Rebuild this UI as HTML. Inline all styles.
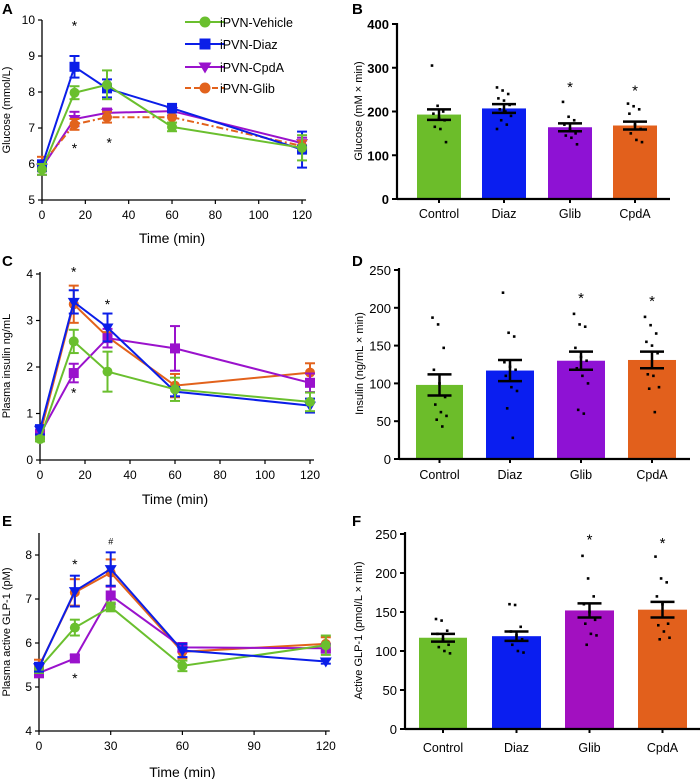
<!DOCTYPE html>
<html><head><meta charset="utf-8"><style>
html,body{margin:0;padding:0;background:#fff;}
svg{display:block;font-family:"Liberation Sans",Arial,sans-serif;}
</style></head><body>
<svg id="s" width="700" height="779" viewBox="0 0 700 779" xmlns="http://www.w3.org/2000/svg"></svg>
<script>
const S=document.getElementById('s');let h='';
const G='#6abf2e',B='#0b1ee8',P='#9a12cc',O='#e2621c';
function t(x,y,s,o){o=o||{};h+=`<text x="${x}" y="${y}" font-size="${o.fs||11}" text-anchor="${o.a||'middle'}" ${o.b?'font-weight="bold"':''} ${o.r?`transform="rotate(-90 ${x} ${y})"`:''} fill="#000">${s}</text>`;}
function L(x1,y1,x2,y2,c,w,d){h+=`<line x1="${x1}" y1="${y1}" x2="${x2}" y2="${y2}" stroke="${c||'#000'}" stroke-width="${w||1.5}" ${d?`stroke-dasharray="${d}"`:''}/>`;}
function mk(x,y,sh,c,r){r=r||5;
 if(sh=='c')h+=`<circle cx="${x}" cy="${y}" r="${r}" fill="${c}"/>`;
 else if(sh=='s')h+=`<rect x="${x-r}" y="${y-r}" width="${2*r}" height="${2*r}" fill="${c}"/>`;
 else if(sh=='d')h+=`<polygon points="${x-r-1},${y-r+1} ${x+r+1},${y-r+1} ${x},${y+r+1}" fill="${c}"/>`;}
function line(p,c){ // p: {ox,xs,y0,v0,ys,ymin,ymax,xt,yt,xlabY,tlY,ylab,ylabX,axTop}
}
function linePanel(P_){const {ox,xs,yv,xt,yt,axTop,axBot,ylab,ylabX,tlY,titleY,series,stars,ytick}=P_;
 L(ox,axTop,ox,axBot,'#000',1.3);L(ox,axBot,ox+xs*120+4,axBot,'#000',1.3);
 yt.forEach(v=>{L(ox-4,yv(v),ox,yv(v),'#000',1.2);t(ox-7,yv(v)+4,v,{a:'end',fs:12});});
 xt.forEach(v=>{L(ox+xs*v,axBot,ox+xs*v,axBot+4,'#000',1.2);t(ox+xs*v,tlY,v,{fs:12});});
 t((ox+ox+xs*120)/2,titleY,'Time (min)',{fs:14});
 t(ylabX,(axTop+axBot)/2,ylab,{r:1,fs:11});
 const T=[0,15,30,60,120];
 series.forEach(s=>{let pts=T.map((tt,i)=>[ox+xs*tt,yv(s.v[i])]);
  h+=`<polyline points="${pts.map(p=>p.join(',')).join(' ')}" fill="none" stroke="${s.c}" stroke-width="2" ${s.d?`stroke-dasharray="${s.d}"`:''}/>`;
  pts.forEach((p,i)=>{const e=(s.e[i]||0.15);const a=yv(s.v[i]+e),b=yv(s.v[i]-e);L(p[0],a,p[0],b,s.c,2);L(p[0]-5,a,p[0]+5,a,s.c,2);L(p[0]-5,b,p[0]+5,b,s.c,2);mk(p[0],p[1],s.m,s.c,5);});});
 stars.forEach(s=>t(ox+xs*s[0],yv(s[1])+5,s[2]||'*',{fs:s[2]?9:14}));
}
// Panel A
{const yv=v=>200-(v-5)*36;
linePanel({ox:42,xs:2.167,yv,xt:[0,20,40,60,80,100,120],yt:[5,6,7,8,9,10],axTop:20,axBot:200,ylab:'Glucose (mmol/L)',ylabX:10,tlY:219,titleY:243,
series:[
{c:P,m:'d',v:[5.9,7.25,7.42,7.47,6.58],e:[0.2,0.2,0.12,0.12,0.15]},
{c:O,m:'c',d:'7,3,2,3',v:[6.0,7.1,7.3,7.3,6.5],e:[0.2,0.15,0.15,0.15,0.15]},
{c:B,m:'s',v:[5.95,8.7,8.1,7.55,6.4],e:[0.15,0.3,0.25,0.12,0.5]},
{c:G,m:'c',v:[5.85,7.98,8.2,7.03,6.45],e:[0.15,0.18,0.4,0.12,0.35]}],
stars:[[15,9.85],[15,6.45],[31,6.6]]});
// legend
[[G,'c','iPVN-Vehicle',22],[B,'s','iPVN-Diaz',44],[P,'d','iPVN-CpdA',67],[O,'c','iPVN-Glib',88]].forEach((r,i)=>{
 L(185,r[3],225,r[3],r[0],2,i==3?'6,3':null);mk(205,r[3],r[1],r[0],5.5);t(220,r[3]+5,r[2],{a:'start',fs:12.5});});
}
// Panel C
{const yv=v=>460-v*46.5;
linePanel({ox:40,xs:2.25,yv,xt:[0,20,40,60,80,100,120],yt:[0,1,2,3,4],axTop:272,axBot:460,ylab:'Plasma insulin ng/mL',ylabX:10,tlY:479,titleY:504,
series:[
{c:O,m:'c',v:[0.55,3.35,2.65,1.6,1.88],e:[0.1,0.4,0.1,0.25,0.2]},
{c:P,m:'s',v:[0.55,1.87,2.62,2.4,1.66],e:[0.1,0.2,0.2,0.48,0.2]},
{c:B,m:'d',v:[0.65,3.4,2.85,1.47,1.17],e:[0.1,0.25,0.3,0.1,0.15]},
{c:G,m:'c',v:[0.45,2.55,1.9,1.52,1.25],e:[0.05,0.25,0.43,0.25,0.2]}],
stars:[[15,4.05],[15,1.45],[30,3.35]]});}
// Panel E
{const yv=v=>731-(v-4)*44;
linePanel({ox:39,xs:2.39,yv,xt:[0,30,60,90,120],yt:[4,5,6,7,8],axTop:533,axBot:731,ylab:'Plasma active GLP-1 (pM)',ylabX:10,tlY:750,titleY:777,
series:[
{c:O,m:'c',v:[5.47,7.15,7.6,5.8,5.98],e:[0.15,0.3,0.3,0.15,0.15]},
{c:P,m:'s',v:[5.32,5.65,7.08,5.9,5.88],e:[0.1,0.08,0.2,0.1,0.1]},
{c:G,m:'c',v:[5.42,6.35,6.82,5.48,5.95],e:[0.1,0.18,0.1,0.12,0.22]},
{c:B,m:'d',v:[5.45,7.18,7.68,5.83,5.58],e:[0.1,0.35,0.38,0.15,0.05]}],
stars:[[15,7.8],[15,5.2],[30,8.35,'#']]});}
// bar panels
function bars(o){const {ox,xe,y0,sc,top,yt,bars,lY,ylab,ylabX,ymaxV}=o;
 const yv=v=>y0-v*sc;
 bars.forEach((b,i)=>{h+=`<rect x="${b.x}" y="${yv(b.v)}" width="${b.w}" height="${y0-yv(b.v)}" fill="${b.c}"/>`;});
 bars.forEach((b,i)=>{const cx=b.x+b.w/2;
  b.pts.forEach((p,j)=>{const dx=((j*37)%11-5)*1.4;h+=`<rect x="${cx+dx-1.3}" y="${yv(p)-1.3}" width="2.6" height="2.6" fill="#000"/>`;});
  const a=yv(b.v+b.e),c=yv(b.v-b.e);L(cx,a,cx,c,'#000',2.5);L(cx-12,a,cx+12,a,'#000',2.5);L(cx-12,c,cx+12,c,'#000',2.5);
  L(cx,y0,cx,y0+4,'#000',2);t(cx,lY,b.n,{fs:12.5});
  if(b.s)t(cx,yv(b.s)+6,'*',{fs:15});});
 L(ox,top,ox,y0,'#000',2.2);L(ox,y0,xe,y0,'#000',2.2);
 yt.forEach(v=>{L(ox-5,yv(v),ox,yv(v),'#000',2);t(ox-8,yv(v)+5,v,{a:'end',fs:13,b:o.bold});});
 t(ylabX,(top+y0)/2,ylab,{r:1,fs:11});
}
bars({ox:397,xe:670,y0:199,sc:0.4375,top:23,yt:[0,100,200,300,400],lY:218,bold:1,ylab:'Glucose (mM × min)',ylabX:362,
bars:[{x:417,w:44,c:'#6cbd2a',v:193,e:12,n:'Control',pts:[305,213,200,195,185,180,165,160,130]},
{x:482,w:44,c:'#0a1ef0',v:207,e:10,n:'Diaz',pts:[255,248,240,230,225,215,205,200,190,180,170,160]},
{x:548,w:44,c:'#8e12d4',v:164,e:9,n:'Glib',pts:[222,188,180,170,160,150,145,140,125],s:258},
{x:613,w:44,c:'#e2601c',v:168,e:9,n:'CpdA',pts:[218,212,205,195,170,160,150,135,130],s:250}]});
bars({ox:399,xe:690,y0:459,sc:0.756,top:268,yt:[0,50,100,150,200,250],lY:479,ylab:'Insulin (ng/mL × min)',ylabX:363,
bars:[{x:416,w:47,c:'#6cbd2a',v:98,e:14,n:'Control',pts:[187,178,147,118,100,82,72,62,57,52,43]},
{x:486,w:48,c:'#0a1ef0',v:117,e:14,n:'Diaz',pts:[220,167,162,128,122,118,110,95,90,67,28]},
{x:557,w:48,c:'#8e12d4',v:130,e:12,n:'Glib',pts:[192,178,175,147,135,130,120,110,100,65,60],s:214},
{x:628,w:48,c:'#e2601c',v:131,e:11,n:'CpdA',pts:[188,177,166,155,150,140,112,110,95,93,62],s:210}]});
bars({ox:405,xe:700,y0:729,sc:0.78,top:532,yt:[0,50,100,150,200,250],lY:752,ylab:'Active GLP-1 (pmol/L × min)',ylabX:362,
bars:[{x:419,w:48,c:'#6cbd2a',v:117,e:5,n:'Control',pts:[141,139,126,122,115,108,105,100,97]},
{x:492,w:49,c:'#0a1ef0',v:119,e:6,n:'Diaz',pts:[160,159,131,125,120,115,108,100,98]},
{x:565,w:49,c:'#a210c0',v:152,e:9,n:'Glib',pts:[222,193,170,160,150,140,135,122,120,108],s:244},
{x:638,w:49,c:'#e2601c',v:153,e:10,n:'CpdA',pts:[221,193,188,170,160,135,133,125,117,115],s:240}]});
// panel letters
[['A',2,14],['B',352,14],['C',2,266],['D',352,266],['E',2,526],['F',352,526]].forEach(l=>t(l[1],l[2],l[0],{a:'start',fs:15,b:1}));
S.innerHTML=h;
</script>
</body></html>
